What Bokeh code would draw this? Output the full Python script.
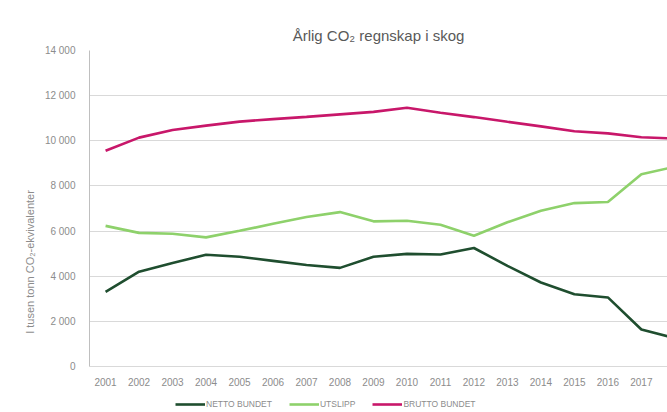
from bokeh.plotting import figure
from bokeh.models import Range1d, Legend, LegendItem, FixedTicker
from bokeh.layouts import column
from bokeh.embed import file_html
from bokeh.resources import INLINE

years = list(range(2001, 2019))
netto_bundet = [3310, 4200, 4590, 4950, 4860, 4680, 4500, 4370, 4860, 4990, 4960, 5250, 4460, 3720, 3200, 3060, 1640, 1250]
utslipp = [6230, 5920, 5880, 5720, 6010, 6320, 6620, 6840, 6430, 6460, 6280, 5790, 6390, 6900, 7240, 7290, 8520, 8850]
brutto_bundet = [9560, 10140, 10480, 10670, 10850, 10960, 11060, 11170, 11280, 11460, 11240, 11050, 10840, 10640, 10420, 10330, 10160, 10100]
series_names = ["NETTO BUNDET", "UTSLIPP", "BRUTTO BUNDET"]
y_ticks = [0, 2000, 4000, 6000, 8000, 10000, 12000, 14000]
y_tick_labels = {0: "0", 2000: "2 000", 4000: "4 000", 6000: "6 000", 8000: "8 000",
                 10000: "10 000", 12000: "12 000", 14000: "14 000"}

FONT = "Liberation Sans"
GRAY = "#8c8c8c"
COLORS = ["#1f4e2f", "#8ed16b", "#c8176a"]
series = [netto_bundet, utslipp, brutto_bundet]

p = figure(width=667, height=394, output_backend="svg", toolbar_location=None,
           x_range=Range1d(2000.52, 2017.78), y_range=Range1d(0, 14000),
           min_border_left=89, min_border_right=0, min_border_top=50, min_border_bottom=28)
p.outline_line_color = None

p.title.text = "Årlig CO₂ regnskap i skog"
p.title.align = "center"
p.title.text_font = FONT
p.title.text_font_size = "15px"
p.title.text_font_style = "normal"
p.title.text_color = "#595959"
p.title.standoff = 14

for vals, col in zip(series, COLORS):
    p.line(years, vals, line_color=col, line_width=2.6)

p.xgrid.grid_line_color = None
p.ygrid.grid_line_color = "#d9d9d9"
p.ygrid.grid_line_width = 1

p.xaxis.ticker = FixedTicker(ticks=years)
p.xaxis.major_tick_line_color = None
p.xaxis.minor_tick_line_color = None
p.xaxis.axis_line_color = "#d9d9d9"
p.xaxis.major_label_text_font = FONT
p.xaxis.major_label_text_font_size = "10px"
p.xaxis.major_label_text_color = GRAY
p.xaxis.major_label_standoff = 5

p.yaxis.ticker = FixedTicker(ticks=y_ticks)
p.yaxis.major_label_overrides = y_tick_labels
p.yaxis.major_tick_line_color = None
p.yaxis.minor_tick_line_color = None
p.yaxis.axis_line_color = "#bfbfbf"
p.yaxis.major_label_text_font = FONT
p.yaxis.major_label_text_font_size = "10px"
p.yaxis.major_label_text_color = GRAY
p.yaxis.major_label_standoff = 8
p.yaxis.axis_label = "I tusen  tonn CO₂-ekvivalenter" + "\u00a0" * 34
p.yaxis.axis_label_text_font = FONT
p.yaxis.axis_label_text_font_size = "11px"
p.yaxis.axis_label_text_font_style = "normal"
p.yaxis.axis_label_text_color = GRAY
p.yaxis.axis_label_standoff = 6

# legend strip below the chart (its lines lie outside its own view; only the legend shows)
lg = figure(width=667, height=18, output_backend="svg", toolbar_location=None,
            x_range=Range1d(0, 1), y_range=Range1d(0, 1),
            x_axis_type=None, y_axis_type=None,
            min_border_left=0, min_border_right=0, min_border_top=0, min_border_bottom=0)
lg.outline_line_color = None
lg.xgrid.visible = False
lg.ygrid.visible = False
items = []
for name, vals, col in zip(series_names, series, COLORS):
    r = lg.line(years, vals, line_color=col, line_width=2.6)
    items.append(LegendItem(label=name, renderers=[r]))
legend = Legend(items=items, orientation="horizontal", location=(86, 3))
legend.label_text_font = FONT
legend.label_text_font_size = "8.5px"
legend.label_text_color = GRAY
legend.glyph_width = 30
legend.glyph_height = 10
legend.label_standoff = 1
legend.spacing = 17
legend.padding = 0
legend.margin = 0
legend.border_line_color = None
legend.background_fill_alpha = 0
lg.add_layout(legend)

layout = column(p, lg, spacing=0)
open("out.html", "w").write(file_html(layout, INLINE))
